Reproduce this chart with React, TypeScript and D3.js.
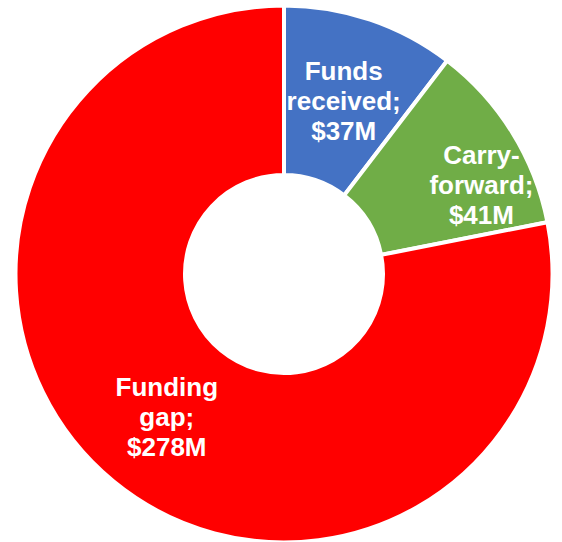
import React from "react";
import * as d3 from "d3";

const categories = ["Funds received", "Carry-forward", "Funding gap"];
const values = [37, 41, 278];
const labelLines = [
  ["Funds", "received;", "$37M"],
  ["Carry-", "forward;", "$41M"],
  ["Funding", "gap;", "$278M"],
];
const colors = ["#4472C4", "#70AD47", "#FF0000"];
const labelOffsets: [number, number][] = [
  [1, 0],
  [42, 8],
  [-1, 2],
];

const W = 562;
const H = 542;
const cx = 284;
const cy = 274;
const outerR = 268.5;
const innerR = 99;
const labelR = 183;

export default function App() {
  const data = categories.map((c, i) => ({ name: c, value: values[i], i }));
  const pie = d3
    .pie<any>()
    .sort(null)
    .value((d: any) => d.value);
  const arcs = pie(data);
  const arcGen = d3.arc<any>().innerRadius(innerR).outerRadius(outerR);
  const labelArc = d3.arc<any>().innerRadius(labelR).outerRadius(labelR);

  return (
    <svg
      width={W}
      height={H}
      style={{ position: "absolute", left: 0, top: 0, background: "#fff" }}
    >
      <g transform={`translate(${cx},${cy})`}>
        {arcs.map((a, i) => (
          <path
            key={i}
            d={arcGen(a) as string}
            fill={colors[i]}
            stroke="#fff"
            strokeWidth={4}
            strokeLinejoin="miter"
          />
        ))}
        {arcs.map((a, i) => {
          const [x, y] = labelArc.centroid(a);
          const lx = x + labelOffsets[i][0];
          const ly = y + labelOffsets[i][1];
          return (
            <text
              key={"t" + i}
              x={lx}
              y={ly}
              textAnchor="middle"
              fill="#fff"
              fontFamily="'Liberation Sans', Arial, sans-serif"
              fontWeight="bold"
              fontSize={26}
            >
              {labelLines[i].map((line, j) => (
                <tspan key={j} x={lx} y={ly + 9 + (j - 1) * 30}>
                  {line}
                </tspan>
              ))}
            </text>
          );
        })}
      </g>
    </svg>
  );
}
